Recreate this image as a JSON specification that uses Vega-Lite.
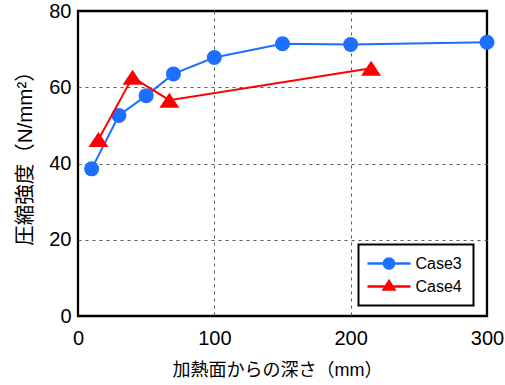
{
  "$schema": "https://vega.github.io/schema/vega-lite/v6.json",
  "width": 409,
  "height": 305,
  "autosize": {"type": "none"},
  "padding": {"left": 78, "top": 11, "right": 18, "bottom": 69},
  "background": "white",
  "data": {
    "values": [
      {"case": "Case3", "depth": 10, "strength": 38.6},
      {"case": "Case3", "depth": 30, "strength": 52.6},
      {"case": "Case3", "depth": 50, "strength": 57.8},
      {"case": "Case3", "depth": 70, "strength": 63.5},
      {"case": "Case3", "depth": 100, "strength": 67.8},
      {"case": "Case3", "depth": 150, "strength": 71.4},
      {"case": "Case3", "depth": 200, "strength": 71.2},
      {"case": "Case3", "depth": 300, "strength": 71.8},
      {"case": "Case4", "depth": 15, "strength": 46.3},
      {"case": "Case4", "depth": 40, "strength": 62.6},
      {"case": "Case4", "depth": 67, "strength": 56.6},
      {"case": "Case4", "depth": 215, "strength": 65.0}
    ]
  },
  "encoding": {
    "x": {
      "field": "depth",
      "type": "quantitative",
      "scale": {"domain": [0, 300], "nice": false, "zero": true},
      "axis": {
        "title": "加熱面からの深さ（mm）",
        "values": [0, 50, 100, 150, 200, 250, 300],
        "labelExpr": "datum.value % 100 === 0 ? datum.label : ''",
        "labelPadding": 12,
        "titleX": 199,
        "titleY": 45,
        "titleAlign": "center",
        "titleBaseline": "top",
        "titleFontSize": 18,
        "gridOpacity": {"condition": {"test": "datum.value === 100 || datum.value === 200", "value": 1}, "value": 0},
        "encode": {
          "ticks": {"update": {"y2": {"signal": "datum.value % 100 === 0 ? -9 : -5"}}}
        }
      }
    },
    "y": {
      "field": "strength",
      "type": "quantitative",
      "scale": {"domain": [0, 80], "nice": false},
      "axis": {
        "title": "圧縮強度（N/mm²）",
        "values": [0, 10, 20, 30, 40, 50, 60, 70, 80],
        "labelExpr": "datum.value % 20 === 0 ? datum.label : ''",
        "labelPadding": 7,
        "titleX": -47,
        "titleY": 142,
        "titleAngle": 270,
        "titleAlign": "center",
        "titleBaseline": "alphabetic",
        "titleFontSize": 20.5,
        "gridOpacity": {"condition": {"test": "datum.value === 20 || datum.value === 40 || datum.value === 60", "value": 1}, "value": 0},
        "encode": {
          "ticks": {"update": {"x2": {"signal": "datum.value % 20 === 0 ? 9 : 5"}}}
        }
      }
    },
    "color": {
      "field": "case",
      "type": "nominal",
      "scale": {"domain": ["Case3", "Case4"], "range": ["#1e6eff", "#ff0000"]},
      "legend": {
        "orient": "none",
        "legendX": 280.5,
        "legendY": 233.5,
        "title": null,
        "padding": 11,
        "rowPadding": 7,
        "symbolSize": 196,
        "symbolStrokeWidth": 0,
        "symbolOffset": 11.5,
        "labelOffset": 18.5,
        "labelFont": "Liberation Sans",
        "labelFontSize": 16,
        "labelColor": "black",
        "strokeColor": "black",
        "fillColor": "white",
        "encode": {
          "legend": {"update": {"strokeWidth": {"value": 2}}},
          "symbols": {
            "update": {
              "shape": {"signal": "datum.value === 'Case3' ? 'M-3.07,-0.165H3.07V0.165H-3.07Z M-0.9,0A0.9,0.9 0 0,1 0.9,0A0.9,0.9 0 0,1 -0.9,0Z' : 'M-3.07,-0.165H3.07V0.165H-3.07Z M0,-1.1L1.07,0.61L-1.07,0.61Z'"},
              "fill": {"scale": "color", "field": "value"},
              "stroke": {"value": "transparent"},
              "strokeWidth": {"value": 0},
              "opacity": {"value": 1}
            }
          }
        }
      }
    }
  },
  "layer": [
    {
      "transform": [{"filter": "datum.case === 'Case3'"}],
      "mark": {"type": "line", "strokeWidth": 2}
    },
    {
      "transform": [{"filter": "datum.case === 'Case3'"}],
      "mark": {"type": "point", "filled": true, "opacity": 1, "shape": "circle", "size": 225}
    },
    {
      "transform": [{"filter": "datum.case === 'Case4'"}],
      "mark": {"type": "line", "strokeWidth": 2}
    },
    {
      "transform": [{"filter": "datum.case === 'Case4'"}],
      "mark": {"type": "point", "filled": true, "opacity": 1, "shape": "M0,-0.75L1,0.75L-1,0.75Z", "size": 400}
    }
  ],
  "config": {
    "view": {"stroke": "black", "strokeWidth": 2.3},
    "axis": {
      "domain": false,
      "grid": true,
      "gridColor": "#5a5a5a",
      "gridDash": [3, 4],
      "gridWidth": 1,
      "tickSize": 0,
      "tickColor": "black",
      "tickWidth": 2.3,
      "labelFont": "Liberation Sans",
      "labelFontSize": 20,
      "labelColor": "black",
      "labelFlush": false,
      "labelOverlap": false,
      "titleFont": "Liberation Sans, Noto Sans CJK JP",
      "titleFontWeight": "normal",
      "titleColor": "black"
    }
  }
}
